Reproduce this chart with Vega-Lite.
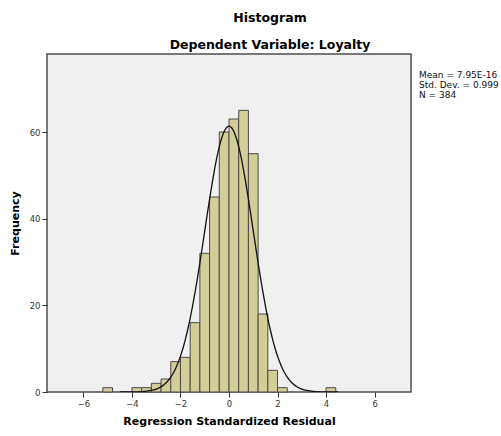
{
  "$schema": "https://vega.github.io/schema/vega-lite/v6.json",
  "width": 364,
  "height": 338,
  "autosize": {"type": "none"},
  "padding": {"left": 47, "top": 54, "right": 90, "bottom": 44},
  "background": "white",
  "title": {
    "text": "Histogram",
    "subtitle": "Dependent Variable: Loyalty",
    "font": "DejaVu Sans",
    "fontSize": 12.5,
    "fontWeight": "bold",
    "color": "#000000",
    "subtitleFont": "DejaVu Sans",
    "subtitleFontSize": 12.5,
    "subtitleFontWeight": "bold",
    "subtitleColor": "#000000",
    "subtitlePadding": 14,
    "anchor": "middle",
    "dx": 41,
    "offset": 3
  },
  "datasets": {
    "bars": [
      {"bin_start": -5.2, "bin_end": -4.8, "count": 1},
      {"bin_start": -4.0, "bin_end": -3.6, "count": 1},
      {"bin_start": -3.6, "bin_end": -3.2, "count": 1},
      {"bin_start": -3.2, "bin_end": -2.8, "count": 2},
      {"bin_start": -2.8, "bin_end": -2.4, "count": 3},
      {"bin_start": -2.4, "bin_end": -2.0, "count": 7},
      {"bin_start": -2.0, "bin_end": -1.6, "count": 8},
      {"bin_start": -1.6, "bin_end": -1.2, "count": 16},
      {"bin_start": -1.2, "bin_end": -0.8, "count": 32},
      {"bin_start": -0.8, "bin_end": -0.4, "count": 45},
      {"bin_start": -0.4, "bin_end": 0.0, "count": 60},
      {"bin_start": 0.0, "bin_end": 0.4, "count": 63},
      {"bin_start": 0.4, "bin_end": 0.8, "count": 65},
      {"bin_start": 0.8, "bin_end": 1.2, "count": 55},
      {"bin_start": 1.2, "bin_end": 1.6, "count": 18},
      {"bin_start": 1.6, "bin_end": 2.0, "count": 5},
      {"bin_start": 2.0, "bin_end": 2.4, "count": 1},
      {"bin_start": 4.0, "bin_end": 4.4, "count": 1}
    ],
    "curve": [
      {"x": -4.5, "f": 0.0},
      {"x": -4.0, "f": 0.02},
      {"x": -3.8, "f": 0.04},
      {"x": -3.6, "f": 0.09},
      {"x": -3.4, "f": 0.19},
      {"x": -3.2, "f": 0.36},
      {"x": -3.0, "f": 0.68},
      {"x": -2.9, "f": 0.91},
      {"x": -2.8, "f": 1.21},
      {"x": -2.7, "f": 1.59},
      {"x": -2.6, "f": 2.07},
      {"x": -2.5, "f": 2.68},
      {"x": -2.4, "f": 3.42},
      {"x": -2.3, "f": 4.33},
      {"x": -2.2, "f": 5.43},
      {"x": -2.1, "f": 6.73},
      {"x": -2.0, "f": 8.27},
      {"x": -1.9, "f": 10.05},
      {"x": -1.8, "f": 12.10},
      {"x": -1.7, "f": 14.42},
      {"x": -1.6, "f": 17.01},
      {"x": -1.5, "f": 19.87},
      {"x": -1.4, "f": 22.98},
      {"x": -1.3, "f": 26.30},
      {"x": -1.2, "f": 29.81},
      {"x": -1.1, "f": 33.45},
      {"x": -1.0, "f": 37.17},
      {"x": -0.9, "f": 40.88},
      {"x": -0.8, "f": 44.51},
      {"x": -0.7, "f": 47.99},
      {"x": -0.6, "f": 51.22},
      {"x": -0.5, "f": 54.12},
      {"x": -0.4, "f": 56.61},
      {"x": -0.3, "f": 58.63},
      {"x": -0.2, "f": 60.12},
      {"x": -0.1, "f": 61.03},
      {"x": 0.0, "f": 61.34},
      {"x": 0.1, "f": 61.03},
      {"x": 0.2, "f": 60.12},
      {"x": 0.3, "f": 58.63},
      {"x": 0.4, "f": 56.61},
      {"x": 0.5, "f": 54.12},
      {"x": 0.6, "f": 51.22},
      {"x": 0.7, "f": 47.99},
      {"x": 0.8, "f": 44.51},
      {"x": 0.9, "f": 40.88},
      {"x": 1.0, "f": 37.17},
      {"x": 1.1, "f": 33.45},
      {"x": 1.2, "f": 29.81},
      {"x": 1.3, "f": 26.30},
      {"x": 1.4, "f": 22.98},
      {"x": 1.5, "f": 19.87},
      {"x": 1.6, "f": 17.01},
      {"x": 1.7, "f": 14.42},
      {"x": 1.8, "f": 12.10},
      {"x": 1.9, "f": 10.05},
      {"x": 2.0, "f": 8.27},
      {"x": 2.1, "f": 6.73},
      {"x": 2.2, "f": 5.43},
      {"x": 2.3, "f": 4.33},
      {"x": 2.4, "f": 3.42},
      {"x": 2.5, "f": 2.68},
      {"x": 2.6, "f": 2.07},
      {"x": 2.7, "f": 1.59},
      {"x": 2.8, "f": 1.21},
      {"x": 2.9, "f": 0.91},
      {"x": 3.0, "f": 0.68},
      {"x": 3.2, "f": 0.36},
      {"x": 3.4, "f": 0.19},
      {"x": 3.6, "f": 0.09},
      {"x": 3.8, "f": 0.04},
      {"x": 4.0, "f": 0.02},
      {"x": 4.5, "f": 0.0}
    ]
  },
  "layer": [
    {
      "data": {"name": "bars"},
      "mark": {"type": "rect", "fill": "#d3ce97", "stroke": "#4a4a4a", "strokeWidth": 1},
      "encoding": {
        "x": {
          "field": "bin_start",
          "type": "quantitative",
          "scale": {"domain": [-7.5, 7.5], "nice": false, "zero": false},
          "axis": {
            "title": "Regression Standardized Residual",
            "values": [-6, -4, -2, 0, 2, 4, 6],
            "titlePadding": 8
          }
        },
        "x2": {"field": "bin_end"},
        "y": {
          "field": "count",
          "type": "quantitative",
          "scale": {"domain": [0, 78], "nice": false},
          "axis": {
            "title": "Frequency",
            "values": [0, 20, 40, 60],
            "titlePadding": 9
          }
        },
        "y2": {"datum": 0}
      }
    },
    {
      "data": {"name": "curve"},
      "mark": {"type": "line", "color": "#111111", "strokeWidth": 1.3, "interpolate": "monotone", "clip": true},
      "encoding": {
        "x": {"field": "x", "type": "quantitative"},
        "y": {"field": "f", "type": "quantitative"}
      }
    },
    {
      "data": {"values": [{}]},
      "mark": {
        "type": "text",
        "align": "left",
        "baseline": "middle",
        "font": "DejaVu Sans",
        "fontSize": 9,
        "lineHeight": 10,
        "color": "#111111",
        "clip": false
      },
      "encoding": {
        "x": {"datum": 7.83, "type": "quantitative"},
        "y": {"datum": 73.2, "type": "quantitative"},
        "text": {"value": ["Mean = 7.95E-16", "Std. Dev. = 0.999", "N = 384"]}
      }
    }
  ],
  "config": {
    "view": {"fill": "#f0f0f0", "stroke": "#4d4d4d", "strokeWidth": 1.5},
    "axis": {
      "grid": false,
      "domain": false,
      "labelFont": "DejaVu Sans",
      "labelFontSize": 8.5,
      "labelColor": "#333333",
      "labelPadding": 2,
      "tickColor": "#333333",
      "tickSize": 5,
      "titleFont": "DejaVu Sans",
      "titleFontSize": 11,
      "titleFontWeight": "bold",
      "titleColor": "#000000"
    }
  }
}
